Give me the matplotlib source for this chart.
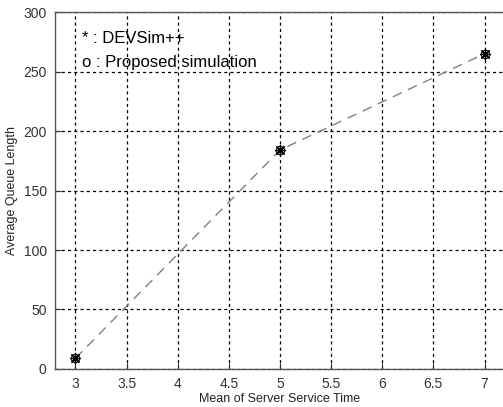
import matplotlib
matplotlib.use("Agg")
import matplotlib.pyplot as plt

plt.rcParams['font.family'] = ['Liberation Sans', 'DejaVu Sans']

# data
service_time = [3, 5, 7]
devsim_queue = [9, 184, 265]
proposed_queue = [9, 184, 265]

xticks = [3, 3.5, 4, 4.5, 5, 5.5, 6, 6.5, 7]
yticks = [0, 50, 100, 150, 200, 250, 300]

fig = plt.figure(figsize=(5.03, 4.07), dpi=100)
ax = fig.add_axes([0.1093, 0.0934, 0.8946, 0.877])

ax.plot(service_time, devsim_queue, color='#808080', linestyle=(0, (7, 5)), linewidth=1)
ax.plot(service_time, devsim_queue, linestyle='none', marker=(8, 2, 0), color='black',
        markersize=8, markeredgewidth=0.9)
ax.plot(service_time, proposed_queue, 'o', markerfacecolor='none', markeredgecolor='black',
        markersize=6, markeredgewidth=0.8)

ax.set_xlim(2.8, 7.2)
ax.set_ylim(0, 300)
ax.set_xticks(xticks)
ax.set_xticklabels(['3', '3.5', '4', '4.5', '5', '5.5', '6', '6.5', '7'])
ax.set_yticks(yticks)

ax.grid(True, color='black', linestyle=(0, (2.5, 2.5)), linewidth=0.9)
ax.tick_params(direction='in', length=4, labelsize=10, colors='#333333', pad=6)
for s in ax.spines.values():
    s.set_color('#555555')
    s.set_linewidth(1)

ax.set_xlabel('Mean of Server Service Time', fontsize=9, color='#222222', labelpad=1)
ax.set_ylabel('Average Queue Length', fontsize=9, color='#222222', labelpad=4)

ax.text(0.06, 0.925, '* : DEVSim++', transform=ax.transAxes, fontsize=12, va='center')
ax.text(0.06, 0.86, 'o : Proposed simulation', transform=ax.transAxes, fontsize=12, va='center')

fig.savefig('out.png', dpi=100)
